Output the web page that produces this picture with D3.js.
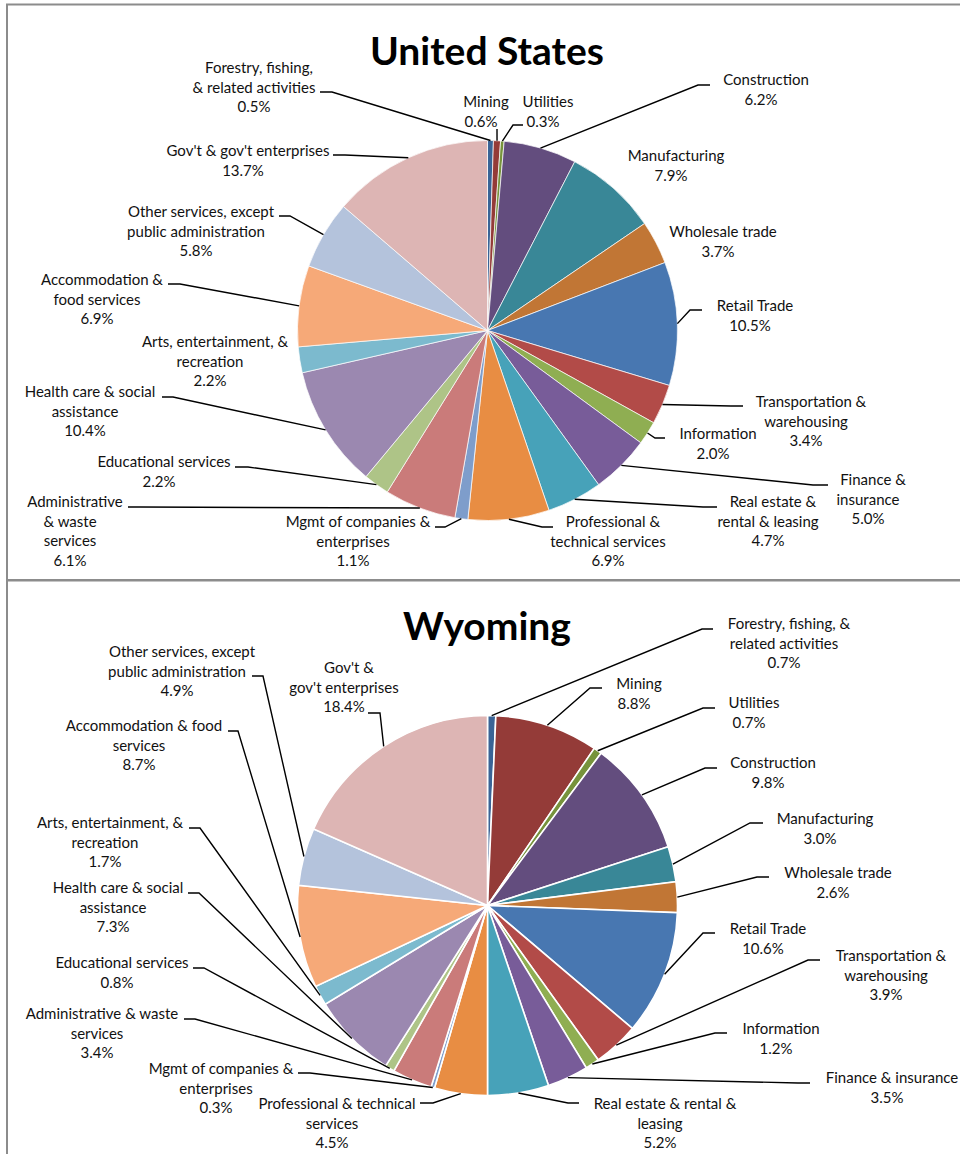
<!DOCTYPE html>
<html>
<head>
<meta charset="utf-8">
<script src="https://cdn.jsdelivr.net/npm/d3@7"></script>
<style>
  body { margin: 0; background: #fff; }
  text { font-family: Lato, "Open Sans", sans-serif; fill: #111; }
</style>
</head>
<body>
<div id="chart-area"></div>
<script>
// sectors, clockwise from 12 o'clock
var sectors = ["Forestry, fishing, & related activities", "Mining", "Utilities", "Construction",
  "Manufacturing", "Wholesale trade", "Retail Trade", "Transportation & warehousing", "Information",
  "Finance & insurance", "Real estate & rental & leasing", "Professional & technical services",
  "Mgmt of companies & enterprises", "Administrative & waste services", "Educational services",
  "Health care & social assistance", "Arts, entertainment, & recreation", "Accommodation & food services",
  "Other services, except public administration", "Gov't & gov't enterprises"];

var usShares = [0.5, 0.6, 0.3, 6.2, 7.9, 3.7, 10.5, 3.4, 2.0, 5.0, 4.7, 6.9, 1.1, 6.1, 2.2, 10.4, 2.2, 6.9, 5.8, 13.7];
var wyShares = [0.7, 8.8, 0.7, 9.8, 3.0, 2.6, 10.6, 3.9, 1.2, 3.5, 5.2, 4.5, 0.3, 3.4, 0.8, 7.3, 1.7, 8.7, 4.9, 18.4];

var sliceColors = ["#3a6496", "#943b38", "#77933c", "#634d7e", "#398797", "#c17635",
  "#4877b1", "#b24b48", "#8fae52", "#785c99", "#47a2b9", "#e88d43",
  "#7e9dcb", "#ca7b7a", "#aec487", "#9b88b0", "#7cbace", "#f6a978",
  "#b4c3dc", "#ddb5b4"];

// label text as wrapped in each chart
var usLabelLines = [["Forestry, fishing,", "& related activities"], ["Mining"], ["Utilities"], ["Construction"],
  ["Manufacturing"], ["Wholesale trade"], ["Retail Trade"], ["Transportation &", "warehousing"], ["Information"],
  ["Finance &", "insurance"], ["Real estate &", "rental & leasing"], ["Professional &", "technical services"],
  ["Mgmt of companies &", "enterprises"], ["Administrative", "& waste", "services"], ["Educational services"],
  ["Health care & social", "assistance"], ["Arts, entertainment, &", "recreation"], ["Accommodation &", "food services"],
  ["Other services, except", "public administration"], ["Gov't & gov't enterprises"]];

var wyLabelLines = [["Forestry, fishing, &", "related activities"], ["Mining"], ["Utilities"], ["Construction"],
  ["Manufacturing"], ["Wholesale trade"], ["Retail Trade"], ["Transportation &", "warehousing"], ["Information"],
  ["Finance & insurance"], ["Real estate & rental &", "leasing"], ["Professional & technical", "services"],
  ["Mgmt of companies &", "enterprises"], ["Administrative & waste", "services"], ["Educational services"],
  ["Health care & social", "assistance"], ["Arts, entertainment, &", "recreation"], ["Accommodation & food", "services"],
  ["Other services, except", "public administration"], ["Gov't &", "gov't enterprises"]];

// label layout: [center x, first baseline y, hook x, hook y, knee x, knee y] (hook null = no leader)
var usLabelPos = [
  [254, 73, 320, 92, 332, 92], [481, 107, 497, 129, 497, 130], [543, 107, 523, 125, 513, 125],
  [761, 85, 710, 85, 698, 85], [671, 161, null], [718, 237, null],
  [750, 311, 702, 310, 690, 310], [806, 407, 743, 406, 731, 406], [713, 439, 665, 438, 655, 438],
  [868, 485, 828, 485, 813, 485], [768, 507, 717, 507, 703, 507], [608, 527, 553, 527, 542, 527],
  [353, 527, 435, 527, 445, 527], [70, 507, 128, 507, 140, 507], [159, 467, 235, 467, 248, 467],
  [85, 397, 162, 397, 173, 397], [210, 347, null], [97, 285, 168, 284, 180, 284],
  [196, 217, 279, 216, 290, 216], [243, 156, 333, 155, 345, 155]];

var wyLabelPos = [
  [784, 629, 713, 629, 702, 629], [634, 689, 602, 688, 590, 688], [749, 708, 715, 708, 703, 708],
  [768, 768, 717, 768, 705, 768], [820, 824, 763, 823, 750, 823], [833, 878, 769, 877, 757, 877],
  [763, 934, 715, 933, 703, 933], [886, 961, 820, 960, 808, 960], [776, 1034, 727, 1033, 715, 1033],
  [887, 1083, 810, 1083, 798, 1083], [660, 1109, 579, 1103, 568, 1103], [332, 1109, 420, 1103, 433, 1103],
  [216, 1074, 298, 1073, 310, 1073], [97, 1019, 184, 1019, 195, 1019], [117, 968, 193, 968, 204, 968],
  [113, 893, 188, 893, 199, 893], [105, 828, 189, 828, 200, 828], [139, 731, 228, 731, 238, 731],
  [177, 657, 252, 676, 263, 676], [344, 673, 368, 713, 380, 713]];

var width = 960, height = 1154;
var radius = 190;
var lineH = 19.5;

var svg = d3.select("#chart-area").append("svg")
            .attr("width", width)
            .attr("height", height);

// panel frames
svg.append("rect").attr("x", 7).attr("y", 4.5).attr("width", 1000).attr("height", 575.5)
   .attr("fill", "none").attr("stroke", "#8c8c8c").attr("stroke-width", 2);
svg.append("rect").attr("x", 7).attr("y", 580.5).attr("width", 1000).attr("height", 700)
   .attr("fill", "none").attr("stroke", "#8c8c8c").attr("stroke-width", 2);

var pie = d3.pie().sort(null).value(function(d){ return d; });
var arc = d3.arc().innerRadius(0).outerRadius(radius);
var edge = d3.arc().innerRadius(radius).outerRadius(radius);

function drawPie(title, titleY, cx, cy, shares, lines, pos, strokeW){
  svg.append("text")
     .attr("x", 487)
     .attr("y", titleY)
     .attr("text-anchor", "middle")
     .style("font-size", "39px")
     .style("font-weight", "bold")
     .style("fill", "#000")
     .text(title);

  var g = svg.append("g").attr("transform", "translate(" + cx + "," + cy + ")");
  var arcs = pie(shares);

  g.selectAll("path")
   .data(arcs)
   .enter()
   .append("path")
   .attr("d", arc)
   .attr("fill", function(d, i){ return sliceColors[i]; })
   .attr("stroke", "#fff")
   .attr("stroke-width", strokeW);

  // leader lines
  arcs.forEach(function(d, i){
    var p = pos[i];
    if (p[2] == null) return;
    var e = edge.centroid(d);
    svg.append("polyline")
       .attr("points", [[p[2], p[3]], [p[4], p[5]], [cx + e[0], cy + e[1]]].join(" "))
       .attr("fill", "none")
       .attr("stroke", "#000")
       .attr("stroke-width", 1.4);
  });

  // labels
  arcs.forEach(function(d, i){
    var p = pos[i];
    var all = lines[i].concat([shares[i].toFixed(1) + "%"]);
    var t = svg.append("text")
       .attr("text-anchor", "middle")
       .style("font-size", "15px");
    all.forEach(function(s, k){
      t.append("tspan")
       .attr("x", k == 0 ? p[0] + 5 : p[0])
       .attr("y", p[1] + k * lineH)
       .text(s);
    });
  });
}

drawPie("United States", 65, 487.5, 330.5, usShares, usLabelLines, usLabelPos, 0.7);
drawPie("Wyoming", 640, 487.5, 905.5, wyShares, wyLabelLines, wyLabelPos, 1.6);
</script>
</body>
</html>
